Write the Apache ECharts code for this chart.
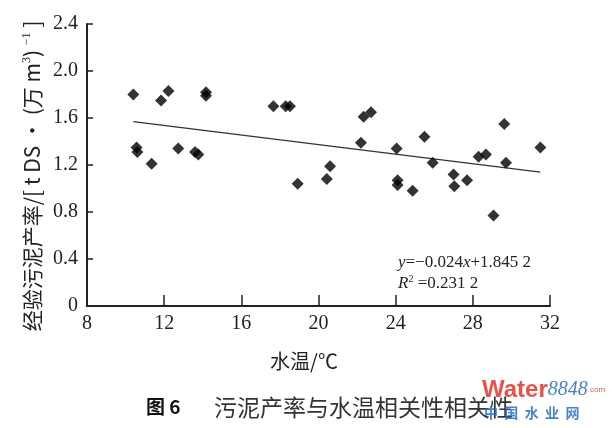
<!DOCTYPE html>
<html>
<head>
<meta charset="utf-8">
<script src="https://cdn.jsdelivr.net/npm/echarts@6/dist/echarts.min.js"></script>
<style>
html,body{margin:0;padding:0;background:#fff;}
#chart{width:612px;height:428px;}
</style>
</head>
<body>
<div id="chart"></div>
<script>
// Water temperature (°C)
var tempX = [10.4, 10.57, 10.61, 11.35, 11.84, 12.22, 12.73, 13.6, 13.77, 14.17, 14.17, 17.66, 18.3, 18.52, 18.92,
             20.43, 20.6, 22.2, 22.34, 22.72, 24.05, 24.1, 24.1, 24.88, 25.49, 25.92, 27.0, 27.04, 27.7, 28.3, 28.68, 29.07, 29.63, 29.72, 31.5];
// Empirical sludge yield
var yieldY = [1.80, 1.35, 1.31, 1.21, 1.75, 1.83, 1.34, 1.31, 1.29, 1.82, 1.79, 1.70, 1.70, 1.70, 1.04,
              1.08, 1.19, 1.39, 1.61, 1.65, 1.34, 1.07, 1.03, 0.98, 1.44, 1.22, 1.12, 1.02, 1.07, 1.27, 1.29, 0.77, 1.55, 1.22, 1.35];
// Fitted trend line end points (as drawn)
var trendX = [10.4, 31.5];
var trendY = [1.57, 1.14];
var xTicks = [8, 12, 16, 20, 24, 28, 32];
var yTicks = [0, 0.4, 0.8, 1.2, 1.6, 2.0, 2.4];

var points = tempX.map(function (x, i) { return [x, yieldY[i]]; });
var trend = trendX.map(function (x, i) { return [x, trendY[i]]; });

var serif = '"Liberation Serif", "DejaVu Serif", serif';
var cjk = '"Noto Sans CJK SC", "Liberation Serif", serif';
var axisColor = '#222';

var chart = echarts.init(document.getElementById('chart'), null, {renderer: 'canvas'});
chart.setOption({
  backgroundColor: '#fff',
  animation: false,
  grid: {left: 87, right: 62, top: 24, bottom: 122, containLabel: false},
  xAxis: {
    type: 'value', min: xTicks[0], max: xTicks[xTicks.length - 1], interval: 4,
    axisLine: {show: true, onZero: false, lineStyle: {color: axisColor, width: 2}},
    axisTick: {show: true, inside: true, length: 11, lineStyle: {color: axisColor, width: 1.5}},
    axisLabel: {color: '#222', fontFamily: serif, fontSize: 20, margin: 8},
    splitLine: {show: false}
  },
  yAxis: {
    type: 'value', min: yTicks[0], max: yTicks[yTicks.length - 1], interval: 0.4,
    axisLine: {show: true, onZero: false, lineStyle: {color: axisColor, width: 2}},
    axisTick: {show: true, inside: true, length: 6, lineStyle: {color: axisColor, width: 1.5}},
    axisLabel: {color: '#222', fontFamily: serif, fontSize: 20, margin: 9,
      formatter: function (v) { return v === 0 ? '0' : v.toFixed(1); }},
    splitLine: {show: false}
  },
  series: [
    {
      type: 'line', data: trend, showSymbol: false, symbol: 'none',
      lineStyle: {color: '#333', width: 1.3}, z: 2
    },
    {
      type: 'scatter', data: points, symbol: 'diamond', symbolSize: 12,
      itemStyle: {color: '#000'}, z: 3
    }
  ],
  graphic: [
    {
      type: 'text', x: 32, y: 176, rotation: Math.PI / 2,
      style: {
        text: '经验污泥产率/[ t DS · (万 m{s|3}) {s|−1} ]',
        font: '21px ' + cjk, fill: '#222', align: 'center', verticalAlign: 'middle',
        rich: {s: {fontSize: 12, fontFamily: serif, verticalAlign: 'top', padding: [0, 0, 11, 0]}}
      }
    },
    {
      type: 'text', x: 304, y: 361,
      style: {text: '水温/℃', font: '20px ' + cjk, fill: '#222', align: 'center', verticalAlign: 'middle'}
    },
    {
      type: 'text', x: 398, y: 263,
      style: {
        text: '{i|y}=−0.024{i|x}+1.845 2',
        font: '17px ' + serif, fill: '#222', align: 'left', verticalAlign: 'middle',
        rich: {i: {fontStyle: 'italic', fontFamily: serif, fontSize: 17}}
      }
    },
    {
      type: 'text', x: 398, y: 284,
      style: {
        text: '{i|R}{s|2} =0.231 2',
        font: '17px ' + serif, fill: '#222', align: 'left', verticalAlign: 'middle',
        rich: {i: {fontStyle: 'italic', fontFamily: serif, fontSize: 17},
               s: {fontSize: 10, fontFamily: serif, padding: [0, 0, 9, 0]}}
      }
    },
    {
      type: 'text', x: 146, y: 407,
      style: {text: '图 6', font: 'bold 19px ' + cjk, fill: '#111', align: 'left', verticalAlign: 'middle'}
    },
    {
      type: 'text', x: 214, y: 407,
      style: {text: '污泥产率与水温相关性相关性', font: '23px ' + cjk, fill: '#333', align: 'left', verticalAlign: 'middle'}
    },
    {
      type: 'text', x: 482, y: 390,
      style: {
        text: '{w|Water}{n|8848}{c|.com}',
        align: 'left', verticalAlign: 'middle',
        rich: {
          w: {fontSize: 24, fontWeight: 'bold', fontFamily: '"Liberation Sans", sans-serif', fill: '#e2352a', opacity: 0.85},
          n: {fontSize: 20, fontStyle: 'italic', fontFamily: serif, fill: '#2a6cc0', opacity: 0.85},
          c: {fontSize: 8, fontFamily: '"Liberation Sans", sans-serif', fill: '#e2352a', opacity: 0.85}
        }
      }
    },
    {
      type: 'text', x: 484, y: 413,
      style: {text: '中  国  水  业  网', font: 'bold 14px ' + cjk, fill: '#2a6cc0', opacity: 0.85, align: 'left', verticalAlign: 'middle'}
    }
  ]
});
</script>
</body>
</html>
